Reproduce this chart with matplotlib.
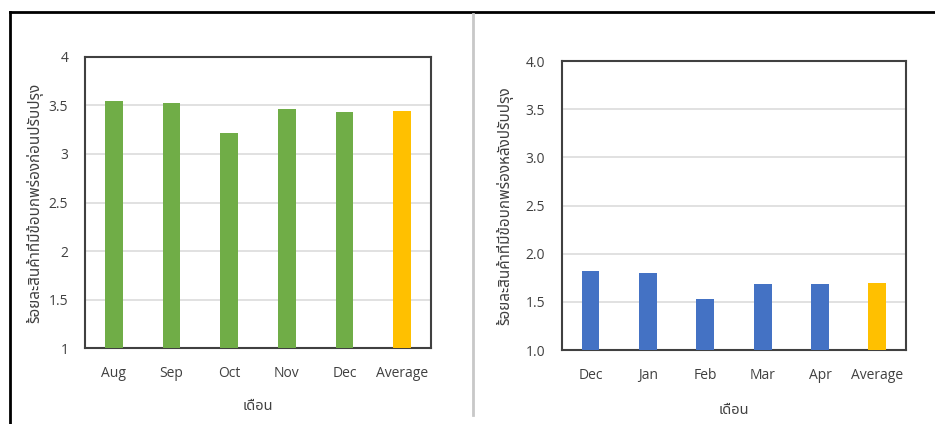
import matplotlib
matplotlib.use("Agg")
import matplotlib.pyplot as plt
from matplotlib.lines import Line2D
from matplotlib.ticker import FuncFormatter

# Defect rate before improvement (Aug-Dec) and after (Dec-Apr)
before_months = ["Aug", "Sep", "Oct", "Nov", "Dec", "Average"]
before_values = [3.55, 3.53, 3.22, 3.46, 3.43, 3.44]
after_months = ["Dec", "Jan", "Feb", "Mar", "Apr", "Average"]
after_values = [1.82, 1.80, 1.53, 1.69, 1.69, 1.70]

ylabel_before = "ร้อยละสินค้าที่มีข้อบกพร่องก่อนปรับปรุง"
ylabel_after = "ร้อยละสินค้าที่มีข้อบกพร่องหลังปรับปรุง"
xlabel = "เดือน"

GREEN = "#70AD47"
BLUE = "#4472C4"
GOLD = "#FFC000"
TEXT = "#404040"

LATIN = ["Open Sans", "DejaVu Sans"]
THAI = ["Noto Sans Thai", "DejaVu Sans"]

plt.rcParams["font.family"] = LATIN

fig = plt.figure(figsize=(9.35, 4.24), dpi=100)


def draw_panel(rect, labels, values, color, ylab, fmt, ypad, xpad):
    ax = fig.add_axes(rect)
    x = range(len(labels))
    colors = [color] * (len(values) - 1) + [GOLD]
    ax.bar(x, [v - 1 for v in values], bottom=1, width=0.31,
           color=colors, zorder=3)
    ax.set_xlim(-0.5, len(labels) - 0.5)
    ax.set_ylim(1, 4)
    ax.set_yticks([1, 1.5, 2, 2.5, 3, 3.5, 4])
    ax.yaxis.set_major_formatter(FuncFormatter(fmt))
    ax.set_xticks(list(x))
    ax.set_xticklabels(labels)
    ax.grid(axis="y", color="#D9D9D9", linewidth=1.1, zorder=0)
    ax.tick_params(axis="both", length=0, labelsize=10, colors=TEXT)
    ax.tick_params(axis="x", pad=13)
    ax.tick_params(axis="y", pad=12)
    for s in ax.spines.values():
        s.set_color("#404040")
        s.set_linewidth(1.5)
    ax.set_ylabel(ylab, family=THAI, fontsize=11, color=TEXT,
                  fontweight="bold", labelpad=ypad)
    ax.set_xlabel(xlabel, family=THAI, fontsize=10.5, color=TEXT,
                  labelpad=xpad)
    return ax


draw_panel([0.0909, 0.1792, 0.370, 0.6864], before_months, before_values,
           GREEN, ylabel_before, lambda v, p: "%g" % v, 4, 13)
draw_panel([0.601, 0.1745, 0.368, 0.6816], after_months, after_values,
           BLUE, ylabel_after, lambda v, p: "%.1f" % v, 9, 14)

# Frame lines around the two panels
fig.add_artist(Line2D([10 / 935, 1.0], [1 - 12 / 424] * 2, color="black",
                      linewidth=2.0, transform=fig.transFigure))
fig.add_artist(Line2D([10 / 935] * 2, [0.0, 1 - 12 / 424], color="black",
                      linewidth=2.0, transform=fig.transFigure))
fig.add_artist(Line2D([473 / 935] * 2, [1 - 415 / 424, 1 - 14 / 424],
                      color="#C8C8C8", linewidth=2.0,
                      transform=fig.transFigure))

fig.savefig("out.png", dpi=100)
